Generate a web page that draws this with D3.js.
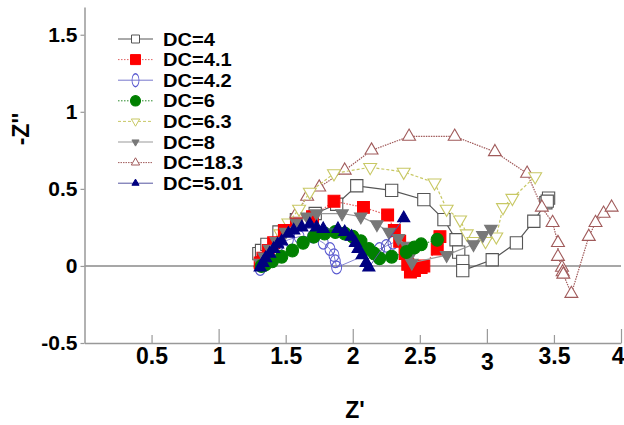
<!DOCTYPE html>
<html><head><meta charset="utf-8">
<script src="https://cdn.jsdelivr.net/npm/d3@7"></script>
<style>body{margin:0;background:#fff}svg{display:block}</style>
</head><body>
<svg id="c" width="624" height="425"></svg>
<script>
// ---- data (Z', -Z'') ----
const dc4 = [[1.30,0.08],[1.32,0.10],[1.36,0.14],[1.45,0.22],[1.58,0.30],[1.72,0.34],[1.88,0.40],[2.03,0.52],[2.29,0.49],[2.53,0.43],[2.68,0.30],[2.77,0.17],[2.79,0.09],[2.82,0.03],[2.82,-0.03],[3.04,0.04],[3.22,0.15],[3.35,0.29],[3.44,0.41],[3.46,0.44],[3.45,0.42]];
const dc41 = [[1.31,0.02],[1.33,0.05],[1.37,0.10],[1.41,0.15],[1.49,0.23],[1.58,0.27],[1.70,0.32],[1.86,0.42],[2.08,0.38],[2.26,0.33],[2.31,0.23],[2.35,0.16],[2.39,0.08],[2.41,0.01],[2.43,-0.04],[2.46,-0.03],[2.51,-0.01],[2.53,0.00],[2.63,0.11],[2.65,0.19]];
const dc42 = [[1.31,-0.02],[1.33,0.02],[1.36,0.06],[1.40,0.10],[1.45,0.14],[1.52,0.17],[1.60,0.19],[1.70,0.19],[1.78,0.15],[1.83,0.11],[1.86,0.07],[1.87,0.03],[1.88,-0.01],[2.20,0.11],[2.25,0.13],[2.30,0.15]];
const dc6 = [[1.32,0.00],[1.35,0.01],[1.40,0.03],[1.47,0.06],[1.55,0.10],[1.63,0.15],[1.71,0.19],[1.79,0.21],[1.87,0.22],[1.94,0.21],[2.00,0.19],[2.06,0.16],[2.12,0.11],[2.16,0.08],[2.20,0.05],[2.29,0.06],[2.40,0.09],[2.46,0.12],[2.51,0.14],[2.63,0.17]];
const dc63 = [[1.31,0.02],[1.34,0.06],[1.38,0.11],[1.42,0.16],[1.46,0.21],[1.52,0.28],[1.60,0.37],[1.68,0.48],[1.86,0.60],[2.13,0.64],[2.38,0.61],[2.61,0.54],[2.70,0.37],[2.80,0.30],[2.85,0.21],[2.90,0.16],[2.99,0.16],[3.07,0.19],[3.12,0.38],[3.19,0.44],[3.36,0.58]];
const dc8 = [[1.31,0.02],[1.34,0.06],[1.38,0.11],[1.43,0.16],[1.50,0.22],[1.58,0.28],[1.66,0.32],[1.73,0.34],[1.92,0.34],[2.06,0.32],[2.18,0.27],[2.27,0.22],[2.34,0.18],[2.40,0.13],[2.43,0.07],[2.44,0.02],[2.70,0.07],[2.90,0.14],[2.97,0.20],[3.03,0.24]];
const dc183 = [[1.31,0.02],[1.35,0.07],[1.40,0.12],[1.45,0.17],[1.52,0.25],[1.58,0.34],[1.66,0.45],[1.75,0.51],[1.94,0.62],[2.14,0.75],[2.42,0.84],[2.76,0.84],[3.06,0.74],[3.30,0.60],[3.41,0.38],[3.49,0.28],[3.53,0.15],[3.53,0.06],[3.56,-0.01],[3.565,-0.04],[3.57,-0.055],[3.63,-0.18],[3.76,0.19],[3.81,0.28],[3.87,0.34],[3.93,0.38]];
const dc501 = [[1.31,-0.01],[1.33,0.02],[1.35,0.05],[1.38,0.08],[1.41,0.11],[1.44,0.14],[1.47,0.16],[1.52,0.21],[1.56,0.23],[1.62,0.25],[1.68,0.27],[1.73,0.25],[1.78,0.24],[1.89,0.24],[1.94,0.22],[1.99,0.19],[2.02,0.15],[2.04,0.11],[2.07,0.07],[2.10,0.02],[2.12,-0.01],[2.38,0.31]];

const legendLabels = ["DC=4","DC=4.1","DC=4.2","DC=6","DC=6.3","DC=8","DC=18.3","DC=5.01"];
const xTickValues = [0.5,1,1.5,2,2.5,3,3.5,4];
const xTickLabels = ["0.5","1","1.5","2","2.5","3","3.5","4"];
const yTickValues = [-0.5,0,0.5,1,1.5];
const yTickLabels = ["-0.5","0","0.5","1","1.5"];

// ---- styles ----
const series = [
  {name:"DC=4",   data:dc4,   sym:d3.symbolSquare,   rot:0,   size:150, fill:"#fff",    stroke:"#555", line:"#555", dash:null,  lw:1.2, leg:64, sx:1, sy:1},
  {name:"DC=4.1", data:dc41,  sym:d3.symbolSquare,   rot:0,   size:140, fill:"#ff0000", stroke:"#ff0000", line:"#e06060", dash:"1.5,1.5", lw:1.2, leg:100, sx:1, sy:1},
  {name:"DC=4.2", data:dc42,  sym:d3.symbolCircle,   rot:0,   size:100, fill:"none",    stroke:"#5a5ad0", line:"#7777cc", dash:null, lw:0.9, leg:60, sx:0.88, sy:1.12},
  {name:"DC=6",   data:dc6,   sym:d3.symbolCircle,   rot:0,   size:118, fill:"#008000", stroke:"#008000", line:"#2a8a2a", dash:"1.5,1.5", lw:1.2, leg:80, sx:1, sy:1.05},
  {name:"DC=6.3", data:dc63,  sym:d3.symbolTriangle, rot:180, size:72,  fill:"#fff",    stroke:"#c8c864", line:"#c8c864", dash:"3,2", lw:1.2, leg:30, sx:1, sy:1},
  {name:"DC=8",   data:dc8,   sym:d3.symbolTriangle, rot:180, size:68,  fill:"#787878", stroke:"#787878", line:"#999", dash:null, lw:1.2, leg:22, sx:1, sy:1},
  {name:"DC=18.3",data:dc183, sym:d3.symbolTriangle, rot:0,   size:72,  fill:"#fff",    stroke:"#a05a5a", line:"#a05a5a", dash:"1.5,1", lw:1.2, leg:30, sx:1, sy:1},
  {name:"DC=5.01",data:dc501, sym:d3.symbolTriangle, rot:0,   size:64,  fill:"#000080", stroke:"#000080", line:"#5555a0", dash:null, lw:1, leg:22, sx:1, sy:1}
];
const drawOrder = [2,0,6,4,1,5,3,7];

const svg = d3.select("#c");
const x = d3.scaleLinear().domain([0,4]).range([84.5,621]);
const y = d3.scaleLinear().domain([-0.5,1.68]).range([343,7]);

// zero line
svg.append("line").attr("x1",x(0)).attr("x2",x(4)).attr("y1",y(0)).attr("y2",y(0))
  .attr("stroke","#8a8a8a").attr("stroke-width",1.5);

// axes
const xAxis = d3.axisBottom(x).tickValues(xTickValues)
  .tickFormat((d,i)=>xTickLabels[i]).tickSizeInner(-8).tickSizeOuter(0).tickPadding(5);
const gx = svg.append("g").attr("transform",`translate(0,${y(-0.5)})`).call(xAxis);
gx.select(".domain").attr("stroke","#999").attr("stroke-width",1.5);
gx.selectAll(".tick line").attr("stroke","#999").attr("stroke-width",1.2)
  .attr("y2",d=>Number.isInteger(d)?-14:-8);
gx.selectAll(".tick text").attr("font-family","'Liberation Sans Narrow','Liberation Sans',Arial,sans-serif")
  .attr("font-weight","bold").attr("font-size",23).attr("fill","#000")
  .attr("dy",(d)=>d===3?"0.95em":"0.71em");
gx.selectAll(".tick").filter(d=>d===4).select("text").attr("text-anchor","end").attr("dx","3");

const yAxis = d3.axisLeft(y).tickValues(yTickValues).tickFormat((d,i)=>yTickLabels[i])
  .tickSizeInner(4).tickSizeOuter(0).tickPadding(3);
const gy = svg.append("g").attr("transform",`translate(${x(0)},0)`).call(yAxis);
gy.select(".domain").attr("stroke","#999").attr("stroke-width",1.5);
gy.selectAll(".tick line").attr("stroke","#999").attr("stroke-width",1.2);
gy.selectAll(".tick text").attr("font-family","'Liberation Sans',Arial,sans-serif")
  .attr("font-weight","bold").attr("font-size",21).attr("fill","#000");

// axis titles
svg.append("text").attr("x",355).attr("y",418).attr("text-anchor","middle")
  .attr("font-family","'Liberation Sans',Arial,sans-serif").attr("font-weight","bold").attr("font-size",23).text("Z'");
svg.append("text").attr("transform","translate(29,129) rotate(-90)").attr("text-anchor","middle")
  .attr("font-family","'Liberation Sans',Arial,sans-serif").attr("font-weight","bold").attr("font-size",23).text("-Z''");

// series
const line = d3.line().x(d=>x(d[0])).y(d=>y(d[1]));
drawOrder.forEach(i=>{
  const s = series[i];
  const g = svg.append("g");
  g.append("path").attr("d",line(s.data)).attr("fill","none").attr("stroke",s.line)
    .attr("stroke-width",s.lw).attr("stroke-dasharray",s.dash);
  const p = d3.symbol().type(s.sym).size(s.size)();
  g.selectAll("path.m").data(s.data).enter().append("path").attr("class","m")
    .attr("d",p)
    .attr("transform",d=>`translate(${x(d[0])},${y(d[1])}) rotate(${s.rot}) scale(${s.sx},${s.sy})`)
    .attr("fill",s.fill).attr("stroke",s.stroke).attr("stroke-width",1.1);
});

// legend
const lg = svg.append("g");
series.forEach((s,i)=>{
  const cy = 39 + i*20.6;
  lg.append("line").attr("x1",118).attr("x2",153).attr("y1",cy).attr("y2",cy)
    .attr("stroke",s.line).attr("stroke-width",1).attr("stroke-dasharray",s.dash);
  lg.append("path").attr("d",d3.symbol().type(s.sym).size(s.leg)())
    .attr("transform",`translate(135.5,${cy}) rotate(${s.rot}) scale(${i===2?0.8:s.sx},${i===2?1.5:s.sy})`)
    .attr("fill",s.fill).attr("stroke",s.stroke).attr("stroke-width",1);
  lg.append("text").attr("transform",`translate(163,${cy+6.6}) scale(1.13,1)`).text(legendLabels[i])
    .attr("font-family","'Liberation Sans',Arial,sans-serif").attr("font-weight","bold").attr("font-size",17.8).attr("fill","#000");
});
</script>
</body></html>
